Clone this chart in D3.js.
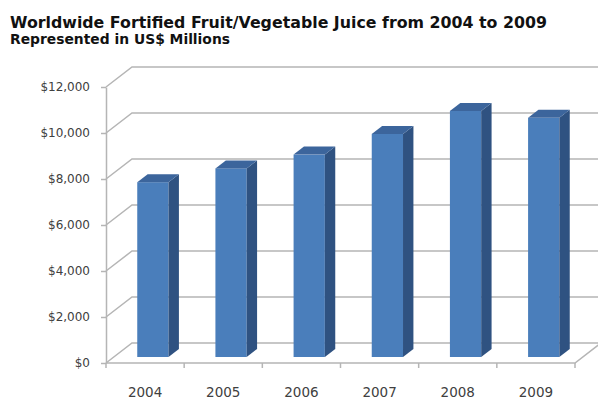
<!DOCTYPE html>
<html>
<head>
<meta charset="utf-8">
<script src="https://cdn.jsdelivr.net/npm/d3@7/dist/d3.min.js"></script>
<style>
  body { margin: 0; background: #fff; }
  svg { display: block; }
</style>
</head>
<body>
<svg id="chart" width="598" height="400"></svg>
<script>
// values in US$ millions
const years = ['2004', '2005', '2006', '2007', '2008', '2009'];
const sales = [7600, 8200, 8800, 9700, 10700, 10400];
const yTicks = [0, 2000, 4000, 6000, 8000, 10000, 12000];

const svg = d3.select('#chart');

// oblique 3d: depth 1 = back wall
const depthX = 26, depthY = -20;
const barFront = 0.3, barBack = 0.7;
const off = d => [d * depthX, d * depthY];

const x = d3.scaleBand().domain(years).range([106, 575]).paddingInner(0).paddingOuter(0);
const y = d3.scaleLinear().domain([0, 12000]).range([363, 87]);
const barW = x.bandwidth() * 0.4;

svg.append('text')
  .attr('x', 10).attr('y', 28)
  .attr('font-family', 'DejaVu Sans, Verdana, sans-serif')
  .attr('font-weight', 'bold')
  .attr('font-size', 16.5)
  .attr('textLength', 537)
  .attr('lengthAdjust', 'spacingAndGlyphs')
  .attr('fill', '#111')
  .text('Worldwide Fortified Fruit/Vegetable Juice from 2004 to 2009');

svg.append('text')
  .attr('x', 10).attr('y', 44)
  .attr('font-family', 'DejaVu Sans, Verdana, sans-serif')
  .attr('font-weight', 'bold')
  .attr('font-size', 14)
  .attr('textLength', 220)
  .attr('lengthAdjust', 'spacingAndGlyphs')
  .attr('fill', '#111')
  .text('Represented in US$ Millions');

const grid = svg.append('g')
  .attr('stroke', '#b5b5b5')
  .attr('stroke-width', 1.5)
  .attr('fill', 'none');

const [bx, by] = off(1);
const x0 = x.range()[0], x1 = x.range()[1];

// left wall + back wall lines
yTicks.forEach(v => {
  grid.append('path')
    .attr('d', `M${x0},${y(v)} L${x0 + bx},${y(v) + by} L${x1 + bx + 10},${y(v) + by}`);
});

// floor
grid.append('path')
  .attr('d', `M${x0},${y(0)} L${x1},${y(0)} L${x1 + bx},${y(0) + by}`);

// bars
const bars = svg.append('g');
years.forEach((yr, i) => {
  const [fx, fy] = off(barFront);
  const [kx, ky] = off(barBack);
  const l = x(yr) + (x.bandwidth() - barW) / 2 + fx;
  const r = l + barW;
  const top = y(sales[i]) + fy;
  const bot = y(0) + fy;
  const dx = kx - fx, dy = ky - fy;

  bars.append('rect')
    .attr('x', l).attr('y', top)
    .attr('width', barW).attr('height', bot - top)
    .attr('fill', '#4a7ebb');
  bars.append('path')
    .attr('d', `M${r},${top} L${r + dx},${top + dy} L${r + dx},${bot + dy} L${r},${bot} Z`)
    .attr('fill', '#2f5281');
  bars.append('path')
    .attr('d', `M${l},${top} L${l + dx},${top + dy} L${r + dx},${top + dy} L${r},${top} Z`)
    .attr('fill', '#3c659c');
});

// value axis on the front-left edge
const yAxis = svg.append('g')
  .attr('transform', `translate(${x0},0)`)
  .call(d3.axisLeft(y).tickValues(yTicks).tickSize(5).tickSizeOuter(0).tickPadding(11)
    .tickFormat(d3.format('$,')));
yAxis.select('.domain').attr('stroke', '#b5b5b5').attr('stroke-width', 1.5);
yAxis.selectAll('.tick line').attr('stroke', '#b5b5b5').attr('stroke-width', 1.5);
yAxis.selectAll('text')
  .attr('font-family', 'DejaVu Sans, Verdana, sans-serif')
  .attr('font-size', 12)
  .attr('fill', '#404040');

// category axis
const bounds = years.map(d => x(d)).concat([x1]);
svg.append('g').selectAll('line').data(bounds).join('line')
  .attr('x1', d => d).attr('x2', d => d)
  .attr('y1', y(0)).attr('y2', y(0) + 5)
  .attr('stroke', '#b5b5b5').attr('stroke-width', 1.5);

svg.append('g').selectAll('text').data(years).join('text')
  .attr('x', d => x(d) + x.bandwidth() / 2)
  .attr('y', 397)
  .attr('text-anchor', 'middle')
  .attr('font-family', 'DejaVu Sans, Verdana, sans-serif')
  .attr('font-size', 13.5)
  .attr('fill', '#404040')
  .text(d => d);
</script>
</body>
</html>
